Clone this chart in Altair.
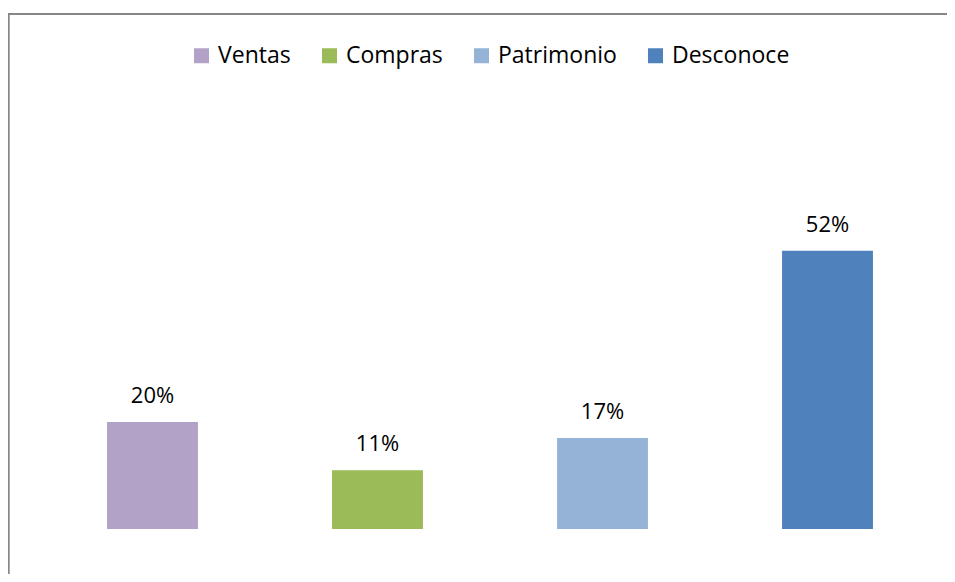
import altair as alt
import pandas as pd

categories = ["Ventas", "Compras", "Patrimonio", "Desconoce"]
values = [20, 11, 17, 52]
colors = ["#B3A2C7", "#9BBB59", "#95B3D7", "#4F81BD"]

df = pd.DataFrame({"cat": categories, "value": values})
df["label"] = [f"{v}%" for v in values]

FONT = "Open Sans"

x = alt.X("cat:N", sort=categories, axis=None,
          scale=alt.Scale(paddingInner=0.596, paddingOuter=0.298))
y = alt.Y("value:Q", axis=None, scale=alt.Scale(domain=[0, 60], nice=False, zero=True))

bars = alt.Chart(df).mark_bar().encode(
    x=x, y=y,
    color=alt.Color("cat:N", sort=categories,
                    scale=alt.Scale(domain=categories, range=colors),
                    legend=alt.Legend(title=None, orient="none", direction="horizontal",
                                      legendX=150, legendY=-164, padding=0,
                                      symbolType="square", symbolSize=225,
                                      symbolStrokeWidth=0, symbolOpacity=1,
                                      labelFont=FONT, labelFontSize=23, labelColor="#000000",
                                      labelOffset=5, columnPadding=27, labelLimit=300)),
)

texts = alt.Chart(df).mark_text(font=FONT, fontSize=22, color="#000000",
                                baseline="alphabetic", dy=-19).encode(
    x=x, y=y, text="label:N")

border_top = alt.Chart(df).mark_rule(color="#868686", strokeWidth=1.5).encode(
    x=alt.value(-32), x2=alt.value(920), y=alt.value(-194))
border_left = alt.Chart(df).mark_rule(color="#868686", strokeWidth=1.5).encode(
    x=alt.value(-31.5), y=alt.value(-194), y2=alt.value(380))

chart = alt.layer(bars, texts, border_top, border_left).properties(
    width=900, height=321,
    padding={"left": 32, "top": 200, "right": 7, "bottom": 45},
    autosize=alt.AutoSizeParams(type="none"),
).configure(background="white").configure_view(strokeWidth=0, stroke=None)

chart.save("out.html", embed_options={"renderer": "svg", "actions": False})
